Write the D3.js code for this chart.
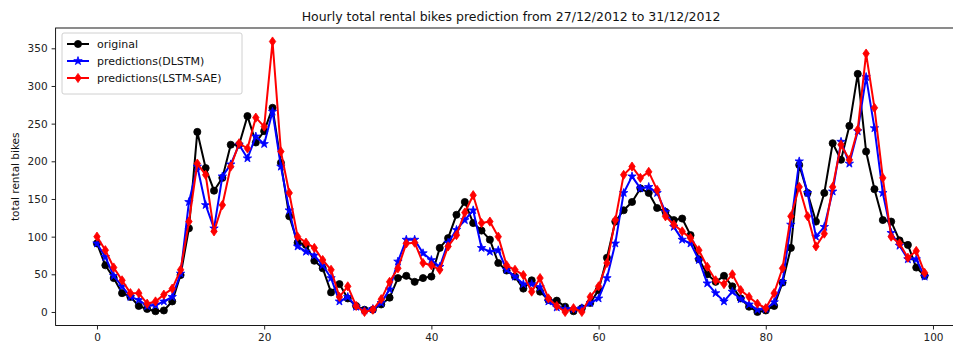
<!DOCTYPE html>
<html>
<head>
<meta charset="utf-8">
<script src="https://cdn.jsdelivr.net/npm/d3@7/dist/d3.min.js"></script>
<style>
  html, body { margin: 0; padding: 0; background: #fff; }
  svg { display: block; font-family: "DejaVu Sans", sans-serif; }
</style>
</head>
<body>
<svg id="chart" width="953" height="346"></svg>
<script>
// Hour index 0..99 covering 27/12/2012 to 31/12/2012
const hours = d3.range(100);

const original = [91, 62, 45, 25, 20, 8, 4, 1, 2, 14, 49, 111, 239, 191, 161, 178, 222, 222, 260, 225,
  240, 271, 198, 127, 92, 89, 68, 58, 26, 37, 18, 8, 3, 3, 10, 19, 45, 48, 40, 45,
  47, 85, 98, 129, 146, 118, 108, 96, 65, 55, 47, 31, 42, 27, 16, 15, 7, 1, 5, 12,
  29, 72, 120, 135, 146, 164, 158, 138, 133, 122, 124, 102, 70, 50, 40, 48, 34, 18, 7, 0,
  2, 8, 39, 85, 195, 158, 120, 158, 224, 202, 247, 316, 213, 163, 122, 120, 95, 89, 59, 48];

const predDLSTM = [91, 73, 48, 34, 20, 16, 8, 9, 14, 20, 51, 146, 193, 142, 111, 180, 196, 222, 204, 233,
  223, 266, 193, 135, 87, 80, 75, 62, 45, 14, 20, 7, 2, 4, 12, 30, 67, 96, 96, 78,
  69, 60, 92, 109, 122, 135, 85, 80, 82, 56, 47, 37, 37, 33, 14, 6, 4, 4, 5, 12,
  18, 45, 91, 158, 180, 164, 166, 158, 133, 113, 96, 91, 69, 38, 25, 14, 27, 17, 10, 3,
  4, 13, 40, 116, 200, 158, 100, 113, 160, 226, 197, 240, 312, 244, 158, 105, 88, 70, 70, 47];

const predLSTMSAE = [100, 82, 59, 42, 25, 25, 11, 14, 23, 31, 56, 120, 197, 182, 107, 142, 193, 224, 217, 258,
  246, 359, 213, 158, 100, 92, 85, 69, 56, 20, 34, 8, 0, 3, 17, 40, 58, 91, 92, 65,
  62, 56, 87, 102, 132, 155, 118, 120, 100, 62, 56, 49, 27, 45, 18, 8, 0, 5, 0, 20,
  34, 65, 122, 182, 193, 178, 186, 162, 127, 116, 107, 98, 82, 60, 42, 37, 50, 29, 20, 11,
  5, 25, 58, 127, 166, 127, 87, 104, 166, 222, 202, 242, 343, 271, 178, 100, 91, 72, 81, 52];

const xTicks = [0, 20, 40, 60, 80, 100];
const yTicks = [0, 50, 100, 150, 200, 250, 300, 350];

const seriesNames = ["original", "predictions(DLSTM)", "predictions(LSTM-SAE)"];
const seriesColors = ["#000000", "#0000ff", "#ff0000"];

const titleText = "Hourly total rental bikes prediction from 27/12/2012 to 31/12/2012";
const yLabelText = "total rental bikes";

const svg = d3.select("#chart");

// Axes box (extends past the right edge of the canvas)
const boxLeft = 55.6, boxTop = 28, plotW = 910.4, plotH = 297.5;

const x = d3.scaleLinear().domain([-4.95, 103.95]).range([boxLeft, boxLeft + plotW]);
const y = d3.scaleLinear().domain([-17.95, 376.95]).range([boxTop + plotH, boxTop]);

// Frame
svg.append("rect")
  .attr("x", boxLeft).attr("y", boxTop)
  .attr("width", plotW).attr("height", plotH)
  .attr("fill", "none").attr("stroke", "#000").attr("stroke-width", 0.9);

// X axis
const xAxis = svg.append("g")
  .attr("transform", `translate(0,${boxTop + plotH})`)
  .call(d3.axisBottom(x).tickValues(xTicks).tickSize(4).tickPadding(4));
xAxis.select(".domain").remove();
xAxis.selectAll("text").attr("font-size", 10.5).attr("fill", "#222")
  .attr("font-family", "DejaVu Sans, sans-serif");
xAxis.selectAll("line").attr("stroke", "#222");

// Y axis
const yAxis = svg.append("g")
  .attr("transform", `translate(${boxLeft},0)`)
  .call(d3.axisLeft(y).tickValues(yTicks).tickSize(4).tickPadding(4));
yAxis.select(".domain").remove();
yAxis.selectAll("text").attr("font-size", 10.5).attr("fill", "#222")
  .attr("font-family", "DejaVu Sans, sans-serif");
yAxis.selectAll("line").attr("stroke", "#222");

// Title and axis label
svg.append("text")
  .attr("x", 511).attr("y", 21)
  .attr("text-anchor", "middle")
  .attr("font-size", 12.5).attr("fill", "#111")
  .text(titleText);

svg.append("text")
  .attr("transform", `translate(19,${boxTop + plotH / 2}) rotate(-90)`)
  .attr("text-anchor", "middle")
  .attr("font-size", 10.5).attr("fill", "#111")
  .text(yLabelText);

const plot = svg.append("g");

const line = d3.line()
  .x((d, i) => x(hours[i]))
  .y(d => y(d));

// Marker shapes per series
function diamondPath(w, h) {
  return `M0,${-h}L${w},0L0,${h}L${-w},0Z`;
}
const markerPath = [
  d3.symbol().type(d3.symbolCircle).size(40)(),
  d3.symbol().type(d3.symbolStar).size(22)(),
  diamondPath(3.2, 4.6)
];

const allSeries = [original, predDLSTM, predLSTMSAE];

allSeries.forEach((vals, k) => {
  plot.append("path")
    .datum(vals)
    .attr("d", line)
    .attr("fill", "none")
    .attr("stroke", seriesColors[k])
    .attr("stroke-width", 2)
    .attr("stroke-linejoin", "round");
  plot.append("g").selectAll("path")
    .data(vals)
    .join("path")
    .attr("transform", (d, i) => `translate(${x(hours[i])},${y(d)})`)
    .attr("d", markerPath[k])
    .attr("fill", seriesColors[k])
    .attr("stroke", seriesColors[k])
    .attr("stroke-width", 0.8);
});

// Legend
const legend = svg.append("g").attr("transform", "translate(62,33)");
legend.append("rect")
  .attr("x", 0).attr("y", 0)
  .attr("width", 180).attr("height", 61)
  .attr("rx", 2)
  .attr("fill", "#fff").attr("fill-opacity", 0.85)
  .attr("stroke", "#d0d0d0").attr("stroke-width", 1);

seriesNames.forEach((name, k) => {
  const ly = 11 + k * 17;
  legend.append("line")
    .attr("x1", 5).attr("x2", 27)
    .attr("y1", ly).attr("y2", ly)
    .attr("stroke", seriesColors[k]).attr("stroke-width", 2);
  legend.append("path")
    .attr("transform", `translate(16,${ly})`)
    .attr("d", markerPath[k])
    .attr("fill", seriesColors[k])
    .attr("stroke", seriesColors[k])
    .attr("stroke-width", 0.8);
  legend.append("text")
    .attr("x", 35).attr("y", ly + 4)
    .attr("font-size", 11).attr("fill", "#111")
    .text(name);
});
</script>
</body>
</html>
